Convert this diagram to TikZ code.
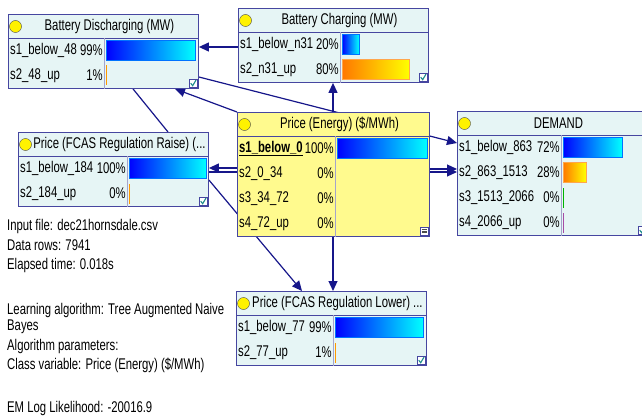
\documentclass[tikz,border=0pt]{standalone}
\usepackage{fontspec}
\setmainfont[FakeStretch=0.73]{Liberation Sans}
\usetikzlibrary{arrows.meta, positioning}
\pgfdeclarelayer{links}
\pgfsetlayers{links,main}

\definecolor{boxfill}{HTML}{E6F5F5}
\definecolor{pefill}{HTML}{FFFA8E}
\definecolor{boxline}{HTML}{4646A0}
\definecolor{linkblue}{HTML}{16168A}
\definecolor{splitline}{HTML}{A4A4CC}
\definecolor{tickgreen}{HTML}{1E8C8C}
\newcommand{\netfont}{\fontsize{15.5}{18}\selectfont}

\tikzset{
  netbox/.style={draw=boxline, line width=0.9pt, anchor=north west, inner sep=0pt},
  dot/.style={circle, draw=black!70, fill=yellow, minimum size=12pt, inner sep=0pt},
  rowlab/.style={anchor=west, inner sep=0pt},
  rowpct/.style={anchor=east, inner sep=0pt},
  info/.style={anchor=west, inner sep=0pt},
  link/.style={draw=linkblue, line width=1.2pt, -{Triangle[length=10pt, width=9pt]}},
  plainlink/.style={draw=linkblue, line width=1.2pt},
  bluebar/.style={left color=blue, right color=cyan, draw=blue!55!cyan, line width=0.4pt},
  orangebar/.style={left color={rgb,255:red,255;green,120;blue,0}, right color=yellow, draw=orange!70, line width=0.4pt},
  orangetick/.style={fill=orange!80!yellow},
  greentick/.style={fill=green!70!black},
  purpletick/.style={fill=violet!70},
  nobar/.style={},
  ticked/.style={draw=boxline, fill=white, minimum size=8pt, inner sep=0pt,
    path picture={\draw[tickgreen, line width=1.1pt]
      ([shift={(1.5pt,4pt)}]path picture bounding box.south west) --
      ([shift={(3.5pt,1.5pt)}]path picture bounding box.south west) --
      ([shift={(7pt,7.5pt)}]path picture bounding box.south west);}},
  scrolled/.style={draw=boxline, fill=white, minimum size=8pt, inner sep=0pt,
    path picture={\foreach \h in {2.5,4,5.5}
      \draw[black!70, line width=0.5pt]
        ([shift={(1.5pt,\h pt)}]path picture bounding box.south west) -- ++(5pt,0pt);}}
}

% name, position, width, divider, rows, fill, title, icon, rows list
\newcommand{\netnode}[9]{%
  \node[netbox, fill=#6, minimum width=#3pt, minimum height=24pt+#5*25pt] (#1) at #2 {};
  \draw[boxline, line width=0.9pt] ([yshift=-24pt]#1.north west) -- ([yshift=-24pt]#1.north east);
  \draw[splitline] ([xshift=#4pt, yshift=-24pt]#1.north west) -- ([xshift=#4pt]#1.south west);
  \node[dot] at ([xshift=7.5pt, yshift=-12.5pt]#1.north west) {};
  \node at ([xshift=6pt, yshift=-12.5pt]#1.north) {#7};
  \foreach \lab/\pct/\len/\barsty [count=\i] in {#9} {
    \pgfmathsetmacro\rowtop{-24-25*(\i-1)}
    \node[rowlab] at ([xshift=2pt, yshift=\rowtop pt-12.5pt]#1.north west) {\lab};
    \node[rowpct] at ([xshift=#4pt-1pt, yshift=\rowtop pt-12.5pt]#1.north west) {\pct};
    \path[\barsty] ([xshift=#4pt+2pt, yshift=\rowtop pt-2.5pt]#1.north west) rectangle ++(\len,20);
  }
  \node[#8, anchor=south east] at ([xshift=-1.5pt, yshift=1.5pt]#1.south east) {};
}

\begin{document}
\begin{tikzpicture}[x=1pt, y=-1pt, font=\netfont]
  \useasboundingbox (0,0) rectangle (642,417);

  \netnode{dis}{(8,14)}{190}{96}{2}{boxfill}{Battery Discharging (MW)}{ticked}
    {s1\_below\_48/99\%/89/bluebar, s2\_48\_up/1\%/1/orangetick}
  \netnode{chg}{(238,8)}{190}{102}{2}{boxfill}{Battery Charging (MW)}{ticked}
    {s1\_below\_n31/20\%/17/bluebar, s2\_n31\_up/80\%/67/orangebar}
  \netnode{rai}{(18,132)}{190}{109}{2}{boxfill}{Price (FCAS Regulation Raise) (...}{ticked}
    {s1\_below\_184/100\%/77/bluebar, s2\_184\_up/0\%/1/orangetick}
  \netnode{pe}{(237,112)}{192}{98}{4}{pefill}{Price (Energy) (\$/MWh)}{scrolled}
    {{\underline{\textbf{s1\_below\_0}}}/100\%/90/bluebar, s2\_0\_34/0\%/0/nobar,
     s3\_34\_72/0\%/0/nobar, s4\_72\_up/0\%/0/nobar}
  \netnode{dem}{(457,111)}{190}{104}{4}{boxfill}{DEMAND}{ticked}
    {s1\_below\_863/72\%/59/bluebar, s2\_863\_1513/28\%/23/orangebar,
     s3\_1513\_2066/0\%/1/greentick, s4\_2066\_up/0\%/1/purpletick}
  \netnode{low}{(236,291)}{190}{97}{2}{boxfill}{Price (FCAS Regulation Lower) ...}{ticked}
    {s1\_below\_77/99\%/88/bluebar, s2\_77\_up/1\%/1/orangetick}

  % links drawn behind the boxes
  \begin{pgfonlayer}{links}
    \draw[link] ([yshift=-39pt]chg.north west) -- ([yshift=-33pt]dis.north east);
    \draw[link] (pe.north west) -- ([xshift=167pt]dis.south west);
    \draw[link] ([yshift=-63pt]dis.north east) -- ([yshift=-32pt]dem.north west);
    \draw[plainlink] ([xshift=125pt]dis.south west) -- ([xshift=150pt]rai.north west);
    \draw[link] ([yshift=-56pt]pe.north west) -- ([yshift=-36pt]rai.north east);
    \draw[link] ([yshift=-40pt]rai.north east) -- ([yshift=-61pt]dem.north west);
    \draw[link] ([yshift=-57pt]pe.north east) -- ([yshift=-58pt]dem.north west);
    \draw[link] ([xshift=96pt]pe.north west) -- ([xshift=95pt]chg.south west);
    \draw[link] ([xshift=96pt]pe.south west) -- ([xshift=97pt]low.north west);
    \draw[link] ([yshift=-48pt]rai.north east) -- ([xshift=66pt]low.north west);
  \end{pgfonlayer}

  \foreach \ty/\txt [count=\k] in {226/Input file: dec21hornsdale.csv, 245/Data rows: 7941,
      265/Elapsed time: 0.018s, 310/Learning algorithm: Tree Augmented Naive, 327/Bayes,
      346/Algorithm parameters:, 365/{Class variable: Price (Energy) (\$/MWh)},
      408/EM Log Likelihood: -20016.9}
    \node[info] (info\k) at (7,\ty) {\txt};
\end{tikzpicture}
\end{document}
